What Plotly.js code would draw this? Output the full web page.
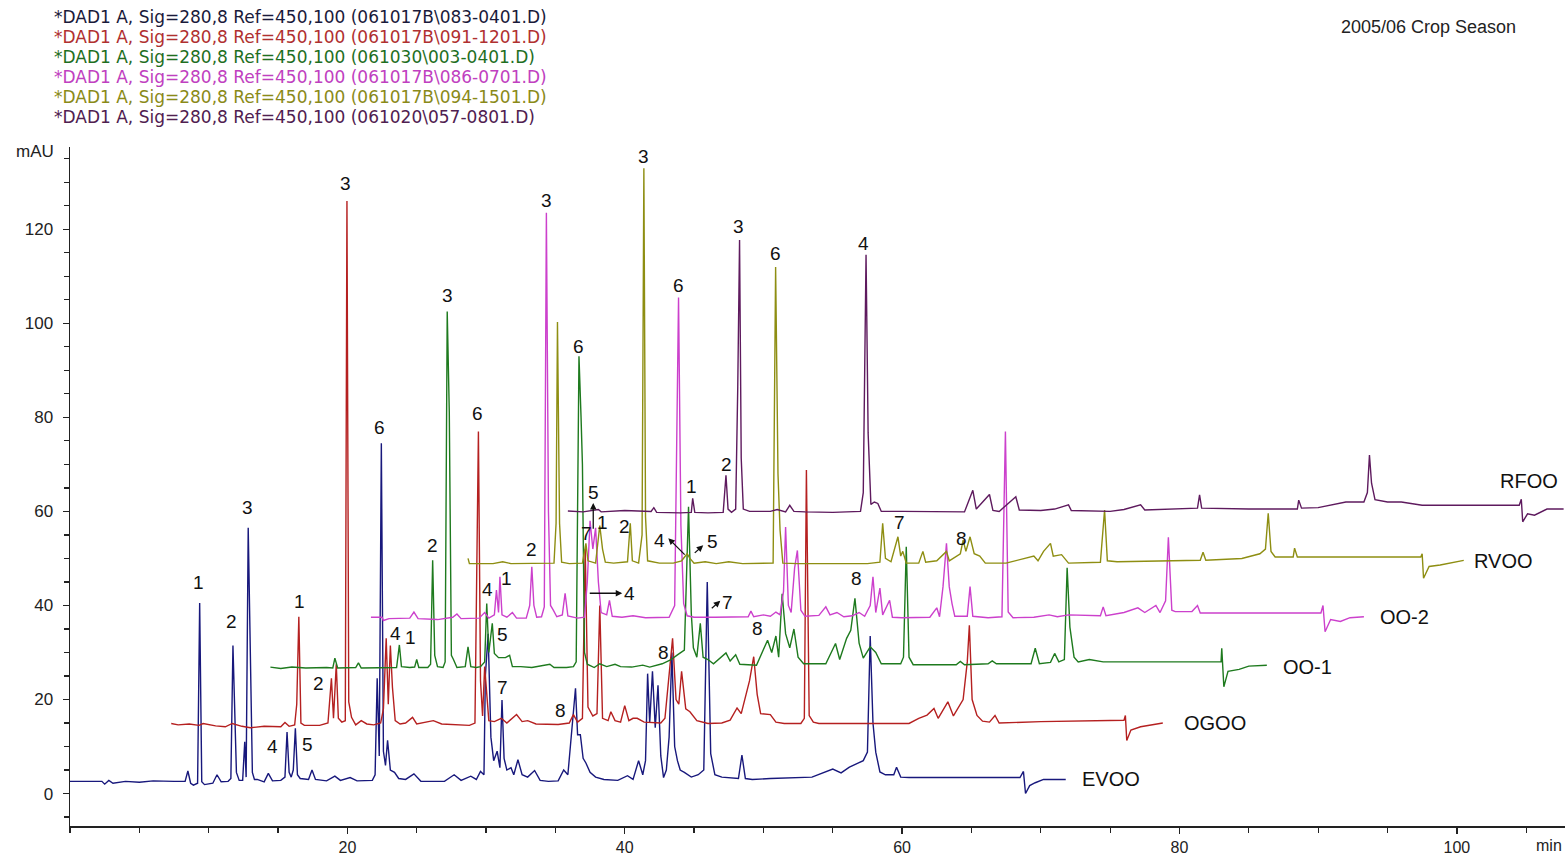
<!DOCTYPE html>
<html><head><meta charset="utf-8">
<script src="https://cdn.plot.ly/plotly-3.0.1.min.js"></script>
<style>html,body{margin:0;padding:0;background:#fff;}#chart{width:1568px;height:859px;}</style>
</head><body><div id="chart"></div>
<script>
// ---- data: [retention time (min), absorbance as displayed (mAU)] ----
const evooPoints = [[0,2.6],[2.3,2.6],[2.5,2.0],[2.8,2.8],[3.1,2.2],[4.0,2.6],[5.0,2.4],[6.0,2.7],[7.5,2.6],[8.3,2.6],[8.5,4.8],[8.7,2.2],[8.9,1.8],[9.2,2.2],[9.35,40.5],[9.5,2.5],[9.7,1.9],[10.3,2.2],[10.6,4.0],[10.9,2.5],[11.4,2.6],[11.6,3.2],[11.75,31.5],[11.9,18.0],[12.0,4.5],[12.2,2.8],[12.45,2.8],[12.6,11.0],[12.7,3.5],[12.85,56.5],[13.0,28.0],[13.15,4.5],[13.3,3.0],[13.5,3.0],[14.0,2.5],[14.3,4.3],[14.6,2.7],[15.2,2.8],[15.5,3.5],[15.65,13.1],[15.8,4.5],[15.95,3.5],[16.1,5.0],[16.25,13.9],[16.4,4.0],[16.6,3.2],[17.2,3.0],[17.45,5.0],[17.7,3.0],[18.5,2.7],[19.1,3.7],[19.5,2.8],[20.2,3.4],[20.7,2.7],[21.8,2.8],[22.0,4.0],[22.15,24.5],[22.3,8.0],[22.45,74.5],[22.6,9.0],[22.75,6.0],[22.9,11.3],[23.1,5.0],[23.4,4.5],[23.7,3.2],[24.2,3.0],[24.8,4.2],[25.3,2.6],[27.0,2.6],[27.7,4.0],[28.2,2.8],[28.9,3.7],[29.3,3.0],[29.6,4.7],[29.85,4.0],[29.95,25.0],[30.15,34.0],[30.35,12.0],[30.55,7.0],[30.8,9.0],[31.0,5.5],[31.15,19.9],[31.3,7.5],[31.5,5.0],[31.8,5.5],[32.0,4.0],[32.3,7.2],[32.6,4.0],[33.0,3.5],[33.5,4.9],[33.9,2.8],[34.5,2.6],[35.2,2.7],[35.6,5.0],[35.9,4.0],[36.1,11.3],[36.25,16.0],[36.45,22.4],[36.6,12.5],[36.8,12.5],[37.0,7.5],[37.2,6.5],[37.5,4.5],[37.9,3.5],[38.5,3.0],[39.5,2.8],[40.2,3.8],[40.6,3.0],[41.0,7.0],[41.3,4.0],[41.5,7.0],[41.65,25.5],[41.8,15.0],[42.0,26.0],[42.2,14.0],[42.4,23.0],[42.6,8.0],[42.8,3.4],[43.0,5.0],[43.2,12.0],[43.4,30.0],[43.6,10.0],[43.8,7.0],[44.0,5.0],[44.3,4.5],[44.8,3.5],[45.3,4.0],[45.7,5.0],[45.95,45.0],[46.2,8.5],[46.5,4.0],[47.0,3.5],[48.2,3.2],[48.45,8.2],[48.7,3.2],[49.2,3.0],[50.5,3.2],[52.0,3.3],[53.5,3.5],[55.0,5.2],[55.6,4.4],[56.2,5.6],[56.7,6.3],[57.2,7.0],[57.5,8.8],[57.7,33.5],[57.9,15.0],[58.1,8.8],[58.4,4.6],[58.8,4.0],[59.4,4.0],[59.6,5.6],[59.9,3.5],[60.5,3.4],[64.0,3.4],[68.5,3.4],[68.75,4.7],[68.9,0.0],[69.2,1.7],[69.6,2.3],[70.2,3.0],[71.8,3.0]];

const ogooPoints = [[7.3,14.9],[7.8,14.6],[8.6,14.8],[9.3,14.5],[9.6,14.9],[10.5,14.4],[11.2,14.2],[11.7,14.9],[12.4,14.3],[13.0,14.0],[14.0,14.3],[15.2,14.2],[15.5,15.1],[15.8,14.3],[16.2,14.6],[16.35,19.0],[16.5,37.6],[16.65,15.0],[16.9,14.5],[18.0,14.5],[18.6,15.0],[18.85,24.5],[19.0,16.0],[19.2,27.5],[19.35,16.0],[19.6,15.2],[19.85,15.5],[19.97,126.0],[20.1,19.5],[20.3,16.2],[20.6,14.6],[21.0,15.5],[21.4,14.8],[21.9,14.6],[22.4,15.0],[22.6,18.0],[22.8,33.0],[22.95,19.0],[23.1,31.5],[23.25,22.6],[23.45,15.5],[23.8,14.8],[24.2,15.0],[24.7,16.2],[25.0,14.8],[26.2,15.5],[26.8,14.8],[28.8,14.5],[29.2,15.0],[29.45,77.0],[29.6,24.0],[29.75,16.5],[29.9,27.0],[30.05,22.0],[30.2,15.5],[30.6,15.3],[31.1,16.0],[31.5,15.0],[32.2,16.8],[32.6,15.3],[33.0,15.5],[33.6,14.8],[35.2,14.7],[36.0,15.0],[36.3,16.8],[36.6,15.2],[36.95,16.0],[37.15,52.0],[37.35,18.4],[37.7,16.5],[38.0,17.0],[38.2,40.0],[38.4,16.0],[38.8,15.5],[39.0,17.4],[39.3,15.5],[39.7,15.2],[40.0,18.7],[40.3,15.5],[40.6,16.0],[40.9,16.0],[41.4,15.2],[42.6,15.0],[42.9,16.0],[43.2,26.0],[43.45,33.0],[43.7,20.0],[43.9,19.0],[44.1,26.0],[44.4,18.0],[44.7,17.4],[45.2,15.5],[46.0,14.9],[47.0,15.0],[47.6,15.6],[48.1,18.2],[48.4,17.0],[48.7,20.4],[49.0,24.0],[49.3,29.1],[49.55,21.1],[49.8,17.0],[50.5,16.8],[50.9,15.2],[51.5,14.9],[52.7,14.9],[52.95,16.0],[53.1,68.8],[53.3,16.6],[53.6,15.2],[54.0,14.9],[60.5,14.9],[61.2,16.0],[61.8,16.7],[62.3,18.1],[62.6,16.0],[63.3,19.5],[63.7,16.5],[64.4,20.0],[64.7,28.0],[64.85,35.8],[65.05,20.0],[65.4,16.6],[65.8,15.4],[66.3,15.2],[66.7,16.6],[67.0,15.0],[70.0,15.3],[76.0,15.6],[76.1,16.6],[76.2,11.3],[76.5,13.5],[77.2,14.2],[78.8,15.0]];

const oo1Points = [[14.45,26.9],[15.2,26.6],[16.0,26.9],[17.0,26.7],[18.5,26.8],[18.95,26.7],[19.1,28.8],[19.3,26.7],[20.6,26.8],[20.8,27.8],[21.0,26.7],[22.0,26.8],[23.3,26.9],[23.55,26.8],[23.75,31.6],[23.9,27.0],[24.5,26.8],[24.85,26.9],[25.0,28.5],[25.15,26.8],[25.8,26.8],[26.0,27.5],[26.15,49.6],[26.3,29.4],[26.5,27.0],[26.9,26.8],[27.05,28.0],[27.2,102.5],[27.35,81.0],[27.5,29.4],[27.65,28.5],[27.9,26.8],[28.5,27.0],[28.7,31.2],[28.9,27.0],[29.3,26.8],[29.6,27.0],[29.9,28.0],[30.05,40.4],[30.2,30.0],[30.45,36.2],[30.6,29.8],[30.9,28.9],[31.4,28.9],[31.7,29.4],[31.9,27.0],[32.5,27.0],[33.3,26.8],[34.6,27.5],[34.9,26.8],[35.8,26.8],[36.3,27.0],[36.5,28.0],[36.7,93.0],[36.85,80.0],[36.95,70.0],[37.1,30.0],[37.3,27.5],[37.8,26.8],[38.2,27.6],[38.7,27.0],[39.3,27.5],[39.7,27.0],[40.5,26.9],[41.3,27.3],[41.8,26.9],[42.7,27.6],[43.3,28.4],[43.8,29.5],[44.3,30.5],[44.6,61.0],[44.8,38.3],[44.95,31.0],[45.2,29.0],[45.45,36.2],[45.65,29.0],[46.0,28.5],[46.4,27.6],[47.3,29.9],[47.6,28.2],[48.0,29.5],[48.3,27.5],[49.5,27.3],[50.3,32.6],[50.6,30.0],[50.9,33.5],[51.1,29.0],[51.35,42.5],[51.6,34.0],[51.9,31.0],[52.2,35.0],[52.5,29.0],[52.9,27.6],[54.5,27.6],[55.2,31.9],[55.5,28.5],[56.0,33.0],[56.3,34.7],[56.6,41.5],[56.9,32.0],[57.2,28.8],[57.7,31.2],[58.1,30.0],[58.5,27.6],[59.9,27.6],[60.1,29.0],[60.3,52.5],[60.5,29.0],[60.8,27.4],[63.9,27.4],[64.2,28.1],[64.5,27.4],[66.2,27.6],[66.5,28.2],[66.8,27.6],[69.3,27.6],[69.6,30.9],[69.9,27.6],[70.7,27.9],[71.0,29.8],[71.3,28.0],[71.7,28.5],[71.9,48.0],[72.1,35.4],[72.4,29.0],[72.7,28.0],[73.5,28.5],[74.5,28.0],[83.0,28.0],[83.05,30.9],[83.2,22.7],[83.5,26.0],[84.3,26.4],[85.0,27.1],[86.3,27.3]];

const oo2Points = [[21.7,37.5],[22.5,37.5],[22.6,36.8],[23.0,37.2],[24.5,37.3],[24.8,38.6],[25.1,37.2],[26.5,37.0],[27.6,37.5],[27.9,38.2],[28.2,37.2],[29.5,37.3],[29.9,38.5],[30.2,37.3],[30.6,38.0],[30.75,43.3],[30.9,38.5],[31.0,46.1],[31.15,38.0],[31.5,37.5],[31.9,38.5],[32.2,37.3],[32.9,37.3],[33.15,40.0],[33.3,48.2],[33.45,40.0],[33.65,37.5],[34.0,37.6],[34.2,39.7],[34.35,123.5],[34.5,60.0],[34.65,40.0],[34.85,39.0],[35.1,37.6],[35.5,38.0],[35.7,42.6],[35.9,37.8],[36.6,37.3],[37.1,37.5],[37.3,45.0],[37.5,58.0],[37.7,52.0],[37.9,56.5],[38.1,45.0],[38.3,38.5],[38.7,38.0],[38.9,41.1],[39.1,37.7],[39.8,37.5],[40.6,37.8],[41.5,37.4],[42.5,37.5],[43.2,37.5],[43.6,40.0],[43.88,105.5],[44.05,57.0],[44.25,40.4],[44.5,37.8],[45.0,37.5],[46.5,37.5],[47.5,37.6],[48.9,37.6],[49.1,38.8],[49.3,37.6],[50.0,38.0],[50.5,37.7],[50.9,38.6],[51.2,38.0],[51.45,43.0],[51.6,56.7],[51.8,40.0],[52.0,38.5],[52.25,48.0],[52.45,51.7],[52.7,39.0],[53.0,37.7],[54.0,37.9],[54.5,39.7],[54.8,38.0],[55.3,38.5],[55.8,37.6],[56.4,37.8],[56.9,38.5],[57.3,37.7],[57.7,40.0],[57.9,46.1],[58.1,38.5],[58.4,43.7],[58.6,38.0],[59.1,41.1],[59.3,37.5],[60.0,37.4],[62.0,37.5],[62.5,39.5],[62.7,37.6],[62.95,44.0],[63.2,53.2],[63.4,44.0],[63.6,40.4],[63.8,37.7],[64.7,37.7],[64.9,44.0],[65.1,37.7],[66.2,37.4],[67.2,37.6],[67.45,77.0],[67.65,38.6],[68.0,37.4],[69.5,37.5],[70.6,38.0],[71.2,37.6],[72.0,38.0],[74.3,37.8],[74.5,39.7],[74.7,37.8],[76.0,38.5],[77.0,39.5],[77.5,38.5],[78.3,40.0],[78.6,38.5],[79.0,41.0],[79.2,54.5],[79.45,39.0],[79.7,38.7],[80.9,38.7],[81.3,40.0],[81.5,38.4],[90.2,38.4],[90.35,40.0],[90.5,34.4],[90.9,37.0],[91.6,36.6],[92.3,37.4],[93.3,37.6]];

const rvooPoints = [[28.7,50.0],[28.8,48.9],[30.5,48.9],[31.2,49.3],[31.8,48.9],[33.0,49.0],[34.9,49.0],[35.05,57.5],[35.15,100.3],[35.3,57.5],[35.45,49.2],[36.0,48.9],[36.95,49.0],[37.2,53.2],[37.35,49.5],[37.9,49.0],[38.2,57.0],[38.4,52.0],[38.6,49.2],[39.2,49.0],[40.2,49.3],[40.4,57.5],[40.55,49.5],[41.0,49.0],[41.25,55.0],[41.38,133.0],[41.5,58.8],[41.65,49.5],[42.5,49.0],[43.5,49.0],[44.1,49.5],[44.5,51.0],[44.7,50.0],[45.0,49.0],[45.8,49.3],[46.6,48.9],[47.5,49.3],[48.5,48.9],[49.8,49.0],[50.7,49.0],[50.88,112.0],[51.05,68.0],[51.2,56.0],[51.4,49.0],[52.5,48.9],[55.0,48.9],[57.5,48.9],[58.4,49.2],[58.6,57.5],[58.8,50.0],[59.2,49.3],[59.7,54.6],[59.9,50.5],[60.05,51.5],[60.3,49.0],[61.2,49.0],[61.5,51.5],[61.7,49.2],[62.5,49.5],[63.2,51.5],[63.4,49.5],[64.2,51.0],[64.4,53.9],[64.6,51.5],[64.9,54.6],[65.2,51.0],[65.6,50.5],[66.0,49.0],[67.5,49.0],[69.5,50.5],[69.8,49.5],[70.2,51.5],[70.7,53.2],[70.9,50.5],[71.5,50.8],[72.0,49.0],[74.3,49.2],[74.6,60.3],[74.8,49.5],[75.5,49.3],[80.0,49.6],[81.5,49.6],[81.7,51.3],[81.9,49.6],[84.5,50.0],[85.8,51.0],[86.2,52.0],[86.4,59.6],[86.6,51.5],[86.9,50.3],[88.2,50.3],[88.3,52.2],[88.5,50.3],[97.4,50.3],[97.5,51.0],[97.6,45.8],[98.0,48.3],[98.8,48.6],[100.5,49.6]];

const rfooPoints = [[35.9,60.1],[37.0,59.9],[38.1,60.4],[38.3,59.9],[40.0,60.2],[41.9,60.0],[42.1,60.8],[42.3,59.8],[44.0,59.7],[44.8,59.8],[44.9,62.8],[45.05,59.8],[46.0,59.7],[47.1,59.8],[47.3,67.7],[47.45,60.5],[47.7,59.8],[48.0,60.5],[48.15,86.5],[48.28,117.7],[48.4,71.3],[48.55,60.5],[49.0,60.0],[50.5,60.0],[51.0,60.4],[51.6,59.9],[51.9,61.3],[52.2,60.0],[53.0,59.9],[55.0,59.8],[57.0,60.0],[57.2,64.0],[57.4,114.6],[57.55,76.7],[57.75,61.5],[58.0,62.0],[58.25,61.7],[58.5,60.0],[60.0,60.0],[62.0,59.9],[64.5,59.9],[65.1,64.5],[65.35,60.5],[66.3,63.6],[66.55,60.2],[67.0,60.0],[68.2,63.1],[68.45,60.3],[70.0,60.2],[71.0,60.5],[72.0,61.4],[72.2,60.2],[75.0,60.0],[76.0,60.4],[77.2,61.4],[77.5,60.3],[80.0,60.6],[81.3,60.7],[81.45,63.5],[81.6,60.7],[85.0,60.5],[88.5,60.5],[88.6,62.4],[88.8,60.7],[90.0,60.8],[92.0,62.0],[93.3,62.0],[93.55,64.0],[93.7,72.0],[93.85,66.0],[94.1,62.5],[95.0,62.0],[96.0,62.0],[97.5,61.3],[104.5,61.3],[104.65,62.6],[104.75,57.8],[105.1,59.5],[105.6,59.2],[106.5,60.5],[107.7,60.5]];

const sampleNames = ['EVOO','OGOO','OO-1','OO-2','RVOO','RFOO'];
const sampleFiles = ['061017B\\083-0401.D','061017B\\091-1201.D','061030\\003-0401.D','061017B\\086-0701.D','061017B\\094-1501.D','061020\\057-0801.D'];
const seasonText = '2005/06 Crop Season';
const xTickValues = [20, 40, 60, 80, 100];
const yTickValues = [0, 20, 40, 60, 80, 100, 120];

// ---- styles / label placement ----
const allPoints = [evooPoints, ogooPoints, oo1Points, oo2Points, rvooPoints, rfooPoints];
const colors = ['#18187c', '#b52020', '#1e7a1e', '#cc40cc', '#8e8e12', '#5e1a5e'];
const textColors = ['#1a1a3a', '#b03030', '#1f6f1f', '#c040c0', '#8a8a18', '#502050'];
const nameLabelPos = [[72.8,3.1],[80.2,15.0],[87.3,26.9],[94.3,37.5],[101.1,49.4],[103.0,66.4]];
const peakLabels = [
  ['1',9.26,44.9],['2',11.63,36.6],['3',12.8,60.9],['4',14.6,10.1],['5',17.1,10.5],['6',22.3,77.9],['7',31.17,22.6],['8',35.4,17.7],
  ['1',16.53,40.9],['2',17.9,23.3],['3',19.85,129.8],['4',23.46,34.1],['6',29.37,80.9],['8',42.78,30.1],
  ['1',24.53,33.2],['2',26.12,52.8],['3',27.2,106.0],['4',30.09,43.3],['5',31.17,33.9],['6',36.65,95.0],['7',47.4,40.7],['8',49.6,35.2],
  ['1',31.46,45.8],['2',33.26,51.8],['3',34.34,126.2],['4',40.32,42.6],['6',43.86,108.1],['8',56.7,45.8],
  ['7',37.22,55.4],['1',38.38,57.7],['2',39.96,56.9],['3',41.33,135.5],['4',42.5,53.9],['5',46.3,53.7],['6',50.85,114.9],['7',59.79,57.7],['8',64.3,54.3],
  ['5',37.73,64.1],['1',44.8,65.2],['2',47.33,69.9],['3',48.2,120.7],['4',57.2,117.0]
];
const arrows = [[39.82,42.6,37.37,42.6],[43.14,54.3,44.43,50.5],[45.66,52.8,44.94,50.9],[37.73,61.8,37.73,56.0],[46.89,41.0,46.17,39.1]];

const traces = allPoints.map((pts, i) => ({
  type: 'scatter', mode: 'lines',
  x: pts.map(p => p[0]), y: pts.map(p => p[1]),
  name: sampleNames[i],
  line: {color: colors[i], width: 1.4},
  hoverinfo: 'skip'
}));

const annotations = [];
const F = 'Liberation Sans, Arial, sans-serif';
const FH = 'DejaVu Sans, Liberation Sans, sans-serif';
peakLabels.forEach(l => annotations.push({x: l[1], y: l[2], xref: 'x', yref: 'y', text: l[0], showarrow: false,
  xanchor: 'center', yanchor: 'middle', font: {family: F, size: 19, color: '#111'}}));
sampleNames.forEach((n, i) => annotations.push({x: nameLabelPos[i][0], y: nameLabelPos[i][1], xref: 'x', yref: 'y', text: n,
  showarrow: false, xanchor: 'left', yanchor: 'middle', font: {family: F, size: 20, color: '#111'}}));
arrows.forEach(a => annotations.push({x: a[0], y: a[1], ax: a[2], ay: a[3], xref: 'x', yref: 'y', axref: 'x', ayref: 'y',
  text: '', showarrow: true, arrowhead: 2, arrowsize: 1, arrowwidth: 1.3, arrowcolor: '#111', standoff: 0, startstandoff: 0}));
sampleFiles.forEach((f, i) => annotations.push({x: -0.012, y: 1.1915 - i * 0.02946, xref: 'paper', yref: 'paper',
  text: '*DAD1 A, Sig=280,8 Ref=450,100 (' + f + ')', showarrow: false, xanchor: 'left', yanchor: 'middle',
  font: {family: FH, size: 17, color: textColors[i]}}));
annotations.push({x: 0.9686, y: 1.1767, xref: 'paper', yref: 'paper', text: seasonText, showarrow: false,
  xanchor: 'right', yanchor: 'middle', font: {family: F, size: 18, color: '#222'}});
annotations.push({x: -0.0234, y: 0.993, xref: 'paper', yref: 'paper', text: 'mAU', showarrow: false,
  xanchor: 'center', yanchor: 'middle', font: {family: F, size: 17, color: '#222'}});
annotations.push({x: 0.989, y: -0.028, xref: 'paper', yref: 'paper', text: 'min', showarrow: false,
  xanchor: 'center', yanchor: 'middle', font: {family: F, size: 16, color: '#222'}});

const layout = {
  width: 1568, height: 859,
  margin: {l: 70, r: 3, t: 147, b: 33},
  paper_bgcolor: '#fff', plot_bgcolor: '#fff',
  showlegend: false, hovermode: false,
  xaxis: {range: [0, 107.8], tickvals: xTickValues, ticks: 'outside', ticklen: 6, tickwidth: 1.5, tickcolor: '#222',
    showline: true, linecolor: '#222', linewidth: 1.5, showgrid: false, zeroline: false,
    tickfont: {family: F, size: 16, color: '#222'},
    minor: {dtick: 5, tick0: 0, ticks: 'outside', ticklen: 5, tickwidth: 1.2, tickcolor: '#222', showgrid: false}},
  yaxis: {range: [-6.9, 137.5], tickvals: yTickValues, ticks: 'outside', ticklen: 6, tickwidth: 1.5, tickcolor: '#222',
    showline: true, linecolor: '#222', linewidth: 1.5, showgrid: false, zeroline: false, ticklabelstandoff: 6,
    tickfont: {family: F, size: 17, color: '#222'},
    minor: {dtick: 5, tick0: 0, ticks: 'outside', ticklen: 5, tickwidth: 1.2, tickcolor: '#222', showgrid: false}},
  annotations: annotations
};
Plotly.newPlot('chart', traces, layout, {displayModeBar: false, staticPlot: true});
</script>
</body></html>
